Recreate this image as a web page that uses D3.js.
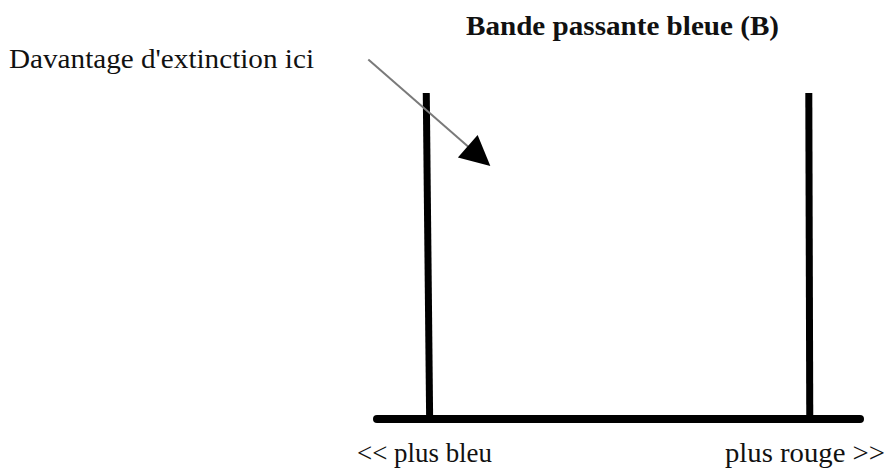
<!DOCTYPE html>
<html>
<head>
<meta charset="utf-8">
<script src="https://cdn.jsdelivr.net/npm/d3@7"></script>
<style>
  body { margin: 0; background: #fff; }
  svg text { font-family: "Liberation Serif", "Times New Roman", serif; fill: #111; }
</style>
</head>
<body>
<div id="chart"></div>
<script>
(function(){
  // passband edges (wavelength axis, 0..100 = axis extent), top and foot of each edge
  const edgeTop = [10.2, 89.4];
  const edgeBottom = [10.9, 89.6];
  const axisExtent = [0, 100];
  const bandTransmission = [0, 1];

  // annotation arrow: [x, y] in data units
  const arrowFrom = [-1.8, 1.103];
  const arrowTo = [23.0, 0.782];

  const title = 'Bande passante bleue (B)';
  const noteLabel = "Davantage d'extinction ici";
  const axisLabels = ['<< plus bleu', 'plus rouge >>'];

  const width = 889;
  const height = 470;

  const x = d3.scaleLinear().domain(axisExtent).range([377, 860]);
  const y = d3.scaleLinear().domain(bandTransmission).range([419, 93]);

  const svg = d3.select('#chart')
    .append('svg')
    .attr('width', width)
    .attr('height', height);

  svg.append('defs').append('marker')
    .attr('id', 'head')
    .attr('viewBox', '0 0 10 10')
    .attr('refX', 9)
    .attr('refY', 5)
    .attr('markerUnits', 'userSpaceOnUse')
    .attr('markerWidth', 36)
    .attr('markerHeight', 30)
    .attr('orient', 'auto')
    .append('path')
    .attr('d', 'M0,0 L10,5 L0,10 Z')
    .attr('fill', '#000');

  // baseline
  svg.append('line')
    .attr('x1', x(axisExtent[0]))
    .attr('x2', x(axisExtent[1]))
    .attr('y1', y(0))
    .attr('y2', y(0))
    .attr('stroke', '#000')
    .attr('stroke-width', 8)
    .attr('stroke-linecap', 'round');

  // band edges
  svg.selectAll('.edge')
    .data(edgeTop)
    .enter().append('line')
    .attr('class', 'edge')
    .attr('x1', d => x(d))
    .attr('y1', y(1))
    .attr('x2', (d, i) => x(edgeBottom[i]))
    .attr('y2', y(0))
    .attr('stroke', '#000')
    .attr('stroke-width', 7);

  // arrow
  svg.append('line')
    .attr('x1', x(arrowFrom[0]))
    .attr('y1', y(arrowFrom[1]))
    .attr('x2', x(arrowTo[0]))
    .attr('y2', y(arrowTo[1]))
    .attr('stroke', '#7a7a7a')
    .attr('stroke-width', 2)
    .attr('marker-end', 'url(#head)');

  // texts, fitted to the widths seen in the picture
  function fit(sel, len) {
    sel.attr('textLength', len).attr('lengthAdjust', 'spacingAndGlyphs');
  }

  svg.append('text')
    .attr('x', 466)
    .attr('y', 35)
    .style('font-size', '28px')
    .style('font-weight', 'bold')
    .text(title)
    .call(fit, 313);

  svg.append('text')
    .attr('x', 9)
    .attr('y', 68)
    .style('font-size', '28px')
    .text(noteLabel)
    .call(fit, 305);

  svg.selectAll('.lab')
    .data(axisLabels)
    .enter().append('text')
    .attr('class', 'lab')
    .attr('x', (d, i) => i === 0 ? 357 : 725)
    .attr('y', 462)
    .style('font-size', '28px')
    .text(d => d)
    .each(function(d, i) { d3.select(this).call(fit, i === 0 ? 135 : 160); });
})();
</script>
</body>
</html>
